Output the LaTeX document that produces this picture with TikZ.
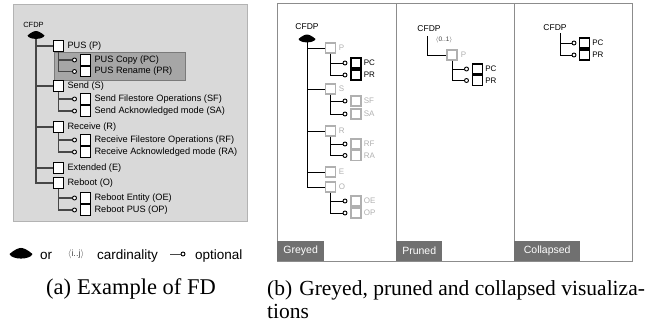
\documentclass[tikz,border=0pt]{standalone}
\usepackage{fontspec}
\setmainfont{Liberation Serif}
\newfontfamily\helv{Liberation Sans}
\usepackage{xcolor}
\usepackage{tikz}
\usetikzlibrary{positioning}

\definecolor{panelgrey}{HTML}{D9D9D9}
\definecolor{panelline}{HTML}{B3B3B3}
\definecolor{hlgrey}{HTML}{A6A6A6}
\definecolor{hlline}{HTML}{7A7A7A}
\definecolor{treeline}{HTML}{474747}
\definecolor{fadegrey}{HTML}{B0B0B0}
\definecolor{tabgrey}{HTML}{707070}
\definecolor{frameline}{HTML}{8C8C8C}

\begin{document}
\begin{tikzpicture}[x=1pt, y=-1pt,
        fbox/.style={rectangle, draw=black, fill=white, line width=1.2pt, minimum size=10.5pt, inner sep=0pt},
        bbox/.style={fbox, minimum size=10pt},
        gbox/.style={bbox, draw=fadegrey},
        optdot/.style={circle, draw=black, fill=white, line width=0.9pt, minimum size=4pt, inner sep=0pt},
        ftext/.style={font=\helv\fontsize{9.2}{10}\selectfont, inner sep=0pt},
        btext/.style={font=\helv\fontsize{8}{9}\selectfont, inner sep=0pt},
        gtext/.style={btext, text=fadegrey},
        rootname/.style={font=\helv\fontsize{8.5}{9}\selectfont, inner sep=0pt},
        card/.style={font=\helv\fontsize{6.5}{7}\selectfont, text=treeline, inner sep=0pt},
        legtext/.style={font=\helv\fontsize{13.5}{14}\selectfont, inner sep=0pt},
        captext/.style={font=\fontsize{21.5}{23}\selectfont, inner sep=0pt},
        aline/.style={draw=treeline, line width=1.2pt},
        bline/.style={draw=black, line width=1pt},
        tab/.style={fill=tabgrey, text=white, font=\helv\fontsize{10.5}{11}\selectfont, minimum height=20pt, inner sep=0pt, anchor=south west},
        orblob/.pic={\fill[black] (-8.5,0) .. controls (-5,-3) and (-2,-4.5) .. (0,-4.5) .. controls (2,-4.5) and (5,-3) .. (8.5,0) .. controls (7,4.5) and (-7,4.5) .. cycle;}
    ]
        \useasboundingbox (0,0) rectangle (662,324);

        % Panel (a): example of FD
        \draw[draw=panelline, fill=panelgrey, line width=1pt] (13,4) rectangle (247,221);
        \draw[draw=hlline, fill=hlgrey, line width=0.8pt] (54,52) rectangle (185,80);
        \node[rootname, font=\helv\fontsize{7.5}{8}\selectfont] (aroot) at (33.5,25) {CFDP};
        \coordinate (aor) at (36,35.5);

        \node[fbox] (aP) at (58.5,46) {};
        \node[ftext, right=3pt of aP] (aPt) {PUS (P)};
        \node[optdot] (aPCo) at (74.5,60) {};
        \node[fbox] (aPC) at (85.5,60) {};
        \node[ftext, right=3pt of aPC] (aPCt) {PUS Copy (PC)};
        \node[optdot] (aPRo) at (74.5,71.5) {};
        \node[fbox] (aPR) at (85.5,71.5) {};
        \node[ftext, right=3pt of aPR] (aPRt) {PUS Rename (PR)};

        \node[fbox] (aS) at (58.5,86) {};
        \node[ftext, right=3pt of aS] (aSt) {Send (S)};
        \node[optdot] (aSFo) at (74.5,99) {};
        \node[fbox] (aSF) at (85.5,99) {};
        \node[ftext, right=3pt of aSF] (aSFt) {Send Filestore Operations (SF)};
        \node[optdot] (aSAo) at (74.5,111) {};
        \node[fbox] (aSA) at (85.5,111) {};
        \node[ftext, right=3pt of aSA] (aSAt) {Send Acknowledged mode (SA)};

        \node[fbox] (aR) at (58.5,127) {};
        \node[ftext, right=3pt of aR] (aRt) {Receive (R)};
        \node[optdot] (aRFo) at (74.5,140) {};
        \node[fbox] (aRF) at (85.5,140) {};
        \node[ftext, right=3pt of aRF] (aRFt) {Receive Filestore Operations (RF)};
        \node[optdot] (aRAo) at (74.5,152) {};
        \node[fbox] (aRA) at (85.5,152) {};
        \node[ftext, right=3pt of aRA] (aRAt) {Receive Acknowledged mode (RA)};

        \node[fbox] (aE) at (58.5,168) {};
        \node[ftext, right=3pt of aE] (aEt) {Extended (E)};

        \node[fbox] (aO) at (58.5,183) {};
        \node[ftext, right=3pt of aO] (aOt) {Reboot (O)};
        \node[optdot] (aOEo) at (74.5,198) {};
        \node[fbox] (aOE) at (85.5,198) {};
        \node[ftext, right=3pt of aOE] (aOEt) {Reboot Entity (OE)};
        \node[optdot] (aOPo) at (74.5,210) {};
        \node[fbox] (aOP) at (85.5,210) {};
        \node[ftext, right=3pt of aOP] (aOPt) {Reboot PUS (OP)};

        \draw[aline] (aor) |- (aP);
        \draw[aline] (aor) |- (aS);
        \draw[aline] (aor) |- (aR);
        \draw[aline] (aor) |- (aE);
        \draw[aline] (aor) |- (aO);
        \draw[aline] (aP) |- (aPCo);
        \draw[aline] (aP) |- (aPRo);
        \draw[aline] (aS) |- (aSFo);
        \draw[aline] (aS) |- (aSAo);
        \draw[aline] (aR) |- (aRFo);
        \draw[aline] (aR) |- (aRAo);
        \draw[aline] (aO) |- (aOEo);
        \draw[aline] (aO) |- (aOPo);
        \pic at (aor) {orblob};

        % Legend
        \pic[scale=1.35] at (21,254) {orblob};
        \node[legtext, anchor=base west] (lor) at (40,259) {or};
        \node[card, font=\helv\fontsize{9}{10}\selectfont] (lcard) at (76,254) {$\langle$i..j$\rangle$};
        \node[legtext, anchor=base west] (lcardt) at (97,259) {cardinality};
        \coordinate (lopt) at (170,254);
        \node[optdot] (loptd) at (183,254) {};
        \draw[aline, line width=1pt] (lopt) -- (loptd);
        \node[legtext, anchor=base west] (loptt) at (195,259) {optional};

        \node[captext, font=\fontsize{22.5}{24}\selectfont, anchor=base] (acap) at (131,294) {(a)\hspace{6pt}Example of FD};

        % Panel (b): frames and tabs
        \draw[frameline, line width=1pt] (277,3) rectangle (632,261);
        \draw[frameline, line width=1pt] (396,3) -- (396,261);
        \draw[frameline, line width=1pt] (514,3) -- (514,261);
        \node[tab, minimum width=47pt] (gtab) at (277,261) {Greyed};
        \node[tab, minimum width=46pt] (ptab) at (396,261) {Pruned};
        \node[tab, minimum width=66pt] (ctab) at (514,261) {Collapsed};

        % Greyed
        \node[rootname] (groot) at (307,27) {CFDP};
        \coordinate (gor) at (307,39);

        \node[gbox] (gP) at (330.5,48) {};
        \node[gtext, right=2.5pt of gP] (gPt) {P};
        \node[optdot] (gPCo) at (345,63) {};
        \node[bbox] (gPC) at (356,63) {};
        \node[btext, right=2pt of gPC] (gPCt) {PC};
        \node[optdot] (gPRo) at (345,75) {};
        \node[bbox] (gPR) at (356,75) {};
        \node[btext, right=2pt of gPR] (gPRt) {PR};

        \node[gbox] (gS) at (330.5,89) {};
        \node[gtext, right=2.5pt of gS] (gSt) {S};
        \node[optdot] (gSFo) at (345,101) {};
        \node[gbox] (gSF) at (356,101) {};
        \node[gtext, right=2pt of gSF] (gSFt) {SF};
        \node[optdot] (gSAo) at (345,114) {};
        \node[gbox] (gSA) at (356,114) {};
        \node[gtext, right=2pt of gSA] (gSAt) {SA};

        \node[gbox] (gR) at (330.5,131) {};
        \node[gtext, right=2.5pt of gR] (gRt) {R};
        \node[optdot] (gRFo) at (345,144) {};
        \node[gbox] (gRF) at (356,144) {};
        \node[gtext, right=2pt of gRF] (gRFt) {RF};
        \node[optdot] (gRAo) at (345,155.5) {};
        \node[gbox] (gRA) at (356,155.5) {};
        \node[gtext, right=2pt of gRA] (gRAt) {RA};

        \node[gbox] (gE) at (330.5,172) {};
        \node[gtext, right=2.5pt of gE] (gEt) {E};

        \node[gbox] (gO) at (330.5,187) {};
        \node[gtext, right=2.5pt of gO] (gOt) {O};
        \node[optdot] (gOEo) at (345,201) {};
        \node[gbox] (gOE) at (356,201) {};
        \node[gtext, right=2pt of gOE] (gOEt) {OE};
        \node[optdot] (gOPo) at (345,213) {};
        \node[gbox] (gOP) at (356,213) {};
        \node[gtext, right=2pt of gOP] (gOPt) {OP};

        \draw[bline] (gor) |- (gP);
        \draw[bline] (gor) |- (gS);
        \draw[bline] (gor) |- (gR);
        \draw[bline] (gor) |- (gE);
        \draw[bline] (gor) |- (gO);
        \draw[bline] (gP) |- (gPCo);
        \draw[bline] (gP) |- (gPRo);
        \draw[bline] (gS) |- (gSFo);
        \draw[bline] (gS) |- (gSAo);
        \draw[bline] (gR) |- (gRFo);
        \draw[bline] (gR) |- (gRAo);
        \draw[bline] (gO) |- (gOEo);
        \draw[bline] (gO) |- (gOPo);
        \pic at (gor) {orblob};

        % Pruned
        \node[rootname] (proot) at (429,29) {CFDP};
        \coordinate (prbase) at (427,36);
        \node[card] (pcard) at (444,40) {$\langle$0..1$\rangle$};
        \node[gbox] (pP) at (452,55) {};
        \node[gtext, right=3pt of pP] (pPt) {P};
        \node[optdot] (pPCo) at (466.5,69) {};
        \node[bbox] (pPC) at (477.5,69) {};
        \node[btext, right=2pt of pPC] (pPCt) {PC};
        \node[optdot] (pPRo) at (466.5,80.5) {};
        \node[bbox] (pPR) at (477.5,80.5) {};
        \node[btext, right=2pt of pPR] (pPRt) {PR};
        \draw[bline] (prbase) |- (pP);
        \draw[bline] (pP) |- (pPCo);
        \draw[bline] (pP) |- (pPRo);

        % Collapsed
        \node[rootname] (croot) at (555,28) {CFDP};
        \coordinate (crbase) at (560,33);
        \node[optdot] (cPCo) at (574,43) {};
        \node[bbox] (cPC) at (584.5,43) {};
        \node[btext, right=2pt of cPC] (cPCt) {PC};
        \node[optdot] (cPRo) at (574,55) {};
        \node[bbox] (cPR) at (584.5,55) {};
        \node[btext, right=2pt of cPR] (cPRt) {PR};
        \draw[bline] (crbase) |- (cPCo);
        \draw[bline] (crbase) |- (cPRo);

        \node[captext, anchor=base west] (bcap) at (267,295) {(b)\hspace{7pt}Greyed, pruned and collapsed visualiza-};
        \node[captext, anchor=base west] (bcapb) at (267,318) {tions};
    \end{tikzpicture}
\end{document}
